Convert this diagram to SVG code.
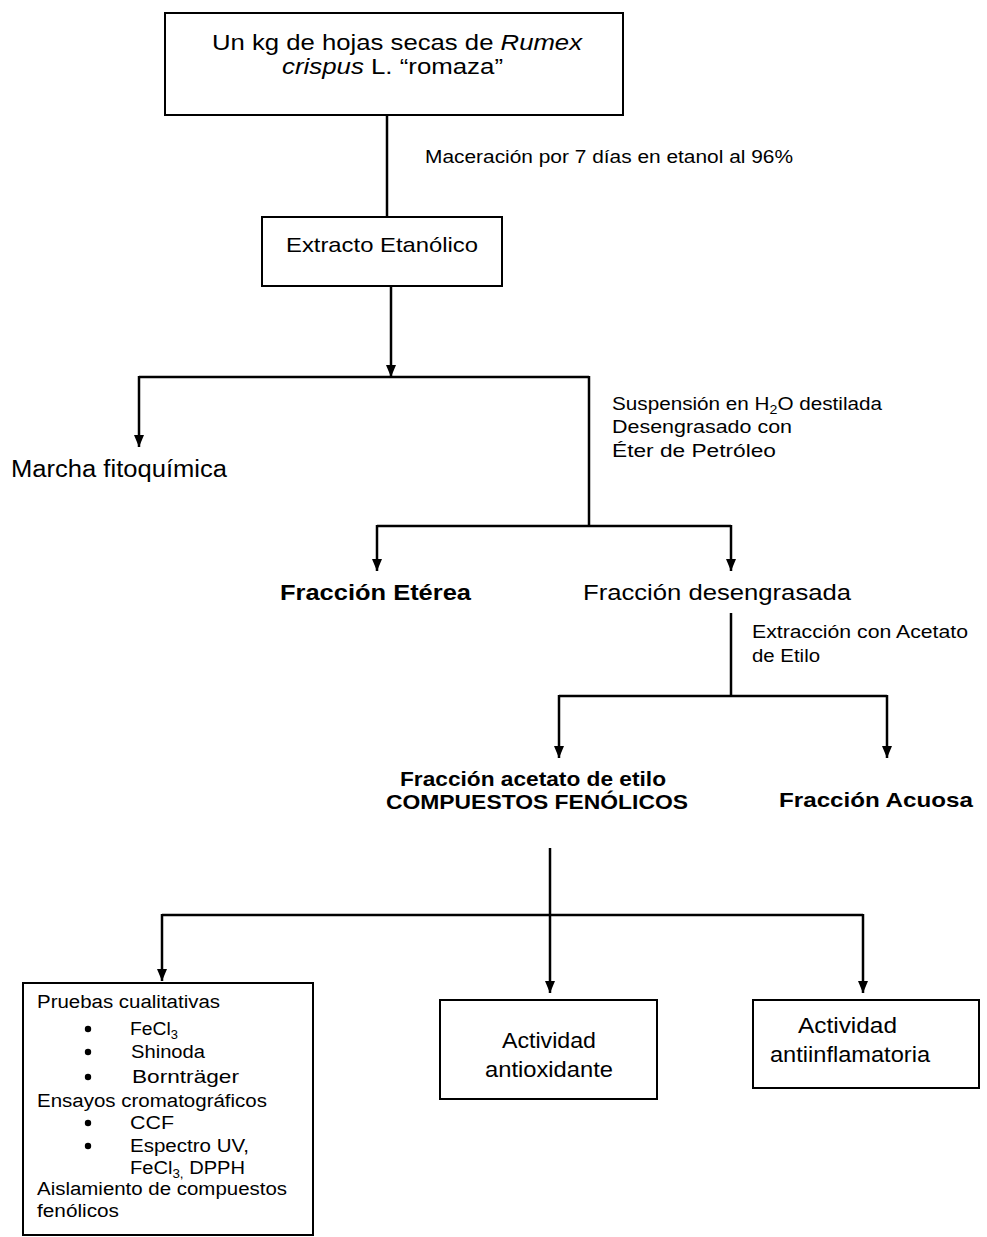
<svg xmlns="http://www.w3.org/2000/svg" width="987" height="1237" viewBox="0 0 987 1237">
<style>
  text { font-family: "Liberation Sans", Arial, sans-serif; fill: #000; }
  .box { fill: #fff; stroke: #000; stroke-width: 2; }
  .ln { fill: none; stroke: #000; stroke-width: 2.5; }
  .b { font-weight: bold; }
  .i { font-style: italic; }
  .lbl { font-size: 17.5px; }
</style>
<defs>
  <marker id="arr" viewBox="0 0 12 10" refX="12" refY="5" markerWidth="12" markerHeight="10" markerUnits="userSpaceOnUse" orient="auto">
    <path d="M0,0 L12,5 L0,10 z" fill="#000"/>
  </marker>
</defs>
<rect width="987" height="1237" fill="#fff"/>

<g id="connectors">
  <line class="ln" x1="387" y1="115" x2="387" y2="217"/>
  <line class="ln" x1="391" y1="286" x2="391" y2="377" marker-end="url(#arr)"/>
  <line class="ln" x1="139" y1="377" x2="589" y2="377"/>
  <line class="ln" x1="139" y1="376" x2="139" y2="447" marker-end="url(#arr)"/>
  <line class="ln" x1="589" y1="376" x2="589" y2="526"/>
  <line class="ln" x1="377" y1="526" x2="731" y2="526"/>
  <line class="ln" x1="377" y1="525" x2="377" y2="571" marker-end="url(#arr)"/>
  <line class="ln" x1="731" y1="525" x2="731" y2="571" marker-end="url(#arr)"/>
  <line class="ln" x1="731" y1="613" x2="731" y2="696"/>
  <line class="ln" x1="559" y1="696" x2="887" y2="696"/>
  <line class="ln" x1="559" y1="695" x2="559" y2="758" marker-end="url(#arr)"/>
  <line class="ln" x1="887" y1="695" x2="887" y2="758" marker-end="url(#arr)"/>
  <line class="ln" x1="550" y1="848" x2="550" y2="993" marker-end="url(#arr)"/>
  <line class="ln" x1="162" y1="915" x2="863" y2="915"/>
  <line class="ln" x1="162" y1="914" x2="162" y2="981" marker-end="url(#arr)"/>
  <line class="ln" x1="863" y1="914" x2="863" y2="993" marker-end="url(#arr)"/>
</g>

<g id="labels">
  <text class="lbl" x="425" y="163" textLength="368" lengthAdjust="spacingAndGlyphs">Maceración  por 7 días  en etanol al 96%</text>
  <text class="lbl" x="612" y="410" textLength="270" lengthAdjust="spacingAndGlyphs">Suspensión en H<tspan font-size="12" dy="4">2</tspan><tspan dy="-4">O destilada</tspan></text>
  <text class="lbl" x="612" y="433" textLength="180" lengthAdjust="spacingAndGlyphs">Desengrasado con</text>
  <text class="lbl" x="612" y="457" textLength="164" lengthAdjust="spacingAndGlyphs">Éter de Petróleo</text>
  <text class="lbl" x="752" y="638" textLength="216" lengthAdjust="spacingAndGlyphs">Extracción con Acetato</text>
  <text class="lbl" x="752" y="662" textLength="68" lengthAdjust="spacingAndGlyphs">de Etilo</text>
</g>

<g id="n-inicio">
  <rect class="box" x="165" y="13" width="458" height="102" stroke-width="2.5"/>
  <text x="212" y="50" font-size="22" textLength="370" lengthAdjust="spacingAndGlyphs">Un kg de hojas secas de <tspan class="i">Rumex</tspan></text>
  <text x="282" y="74" font-size="22" textLength="221" lengthAdjust="spacingAndGlyphs"><tspan class="i">crispus</tspan> L.  “romaza”</text>
</g>

<g id="n-extracto">
  <rect class="box" x="262" y="217" width="240" height="69"/>
  <text x="286" y="252" font-size="21" textLength="192" lengthAdjust="spacingAndGlyphs">Extracto Etanólico</text>
</g>

<g id="n-marcha">
  <text x="11" y="477" font-size="23" textLength="216" lengthAdjust="spacingAndGlyphs">Marcha fitoquímica</text>
</g>

<g id="n-eterea">
  <text class="b" x="280" y="600" font-size="22" textLength="191" lengthAdjust="spacingAndGlyphs">Fracción Etérea</text>
</g>

<g id="n-desengrasada">
  <text x="583" y="600" font-size="22" textLength="268" lengthAdjust="spacingAndGlyphs">Fracción desengrasada</text>
</g>

<g id="n-acetato">
  <text class="b" x="400" y="786" font-size="20" textLength="266" lengthAdjust="spacingAndGlyphs">Fracción acetato de etilo</text>
  <text class="b" x="386" y="809" font-size="20" textLength="302" lengthAdjust="spacingAndGlyphs">COMPUESTOS FENÓLICOS</text>
</g>

<g id="n-acuosa">
  <text class="b" x="779" y="807" font-size="21" textLength="194" lengthAdjust="spacingAndGlyphs">Fracción Acuosa</text>
</g>

<g id="n-pruebas">
  <rect class="box" x="23" y="983" width="290" height="252"/>
  <text x="37" y="1008" font-size="18" textLength="183" lengthAdjust="spacingAndGlyphs">Pruebas cualitativas</text>
  <circle cx="88" cy="1029" r="3.2"/>
  <text x="130" y="1035" font-size="18" textLength="48" lengthAdjust="spacingAndGlyphs">FeCl<tspan font-size="12" dy="4">3</tspan></text>
  <circle cx="88" cy="1052" r="3.2"/>
  <text x="131" y="1058" font-size="18" textLength="74" lengthAdjust="spacingAndGlyphs">Shinoda</text>
  <circle cx="88" cy="1077" r="3.2"/>
  <text x="132" y="1083" font-size="19" textLength="107" lengthAdjust="spacingAndGlyphs">Bornträger</text>
  <text x="37" y="1107" font-size="18" textLength="230" lengthAdjust="spacingAndGlyphs">Ensayos cromatográficos</text>
  <circle cx="88" cy="1123" r="3.2"/>
  <text x="130" y="1129" font-size="18" textLength="44" lengthAdjust="spacingAndGlyphs">CCF</text>
  <circle cx="88" cy="1146" r="3.2"/>
  <text x="130" y="1152" font-size="18" textLength="119" lengthAdjust="spacingAndGlyphs">Espectro UV,</text>
  <text x="130" y="1174" font-size="18" textLength="115" lengthAdjust="spacingAndGlyphs">FeCl<tspan font-size="12" dy="4">3,</tspan><tspan dy="-4"> DPPH</tspan></text>
  <text x="37" y="1195" font-size="18" textLength="250" lengthAdjust="spacingAndGlyphs">Aislamiento de compuestos</text>
  <text x="37" y="1217" font-size="18" textLength="82" lengthAdjust="spacingAndGlyphs">fenólicos</text>
</g>

<g id="n-antioxidante">
  <rect class="box" x="440" y="1000" width="217" height="99"/>
  <text x="502" y="1048" font-size="22" textLength="94" lengthAdjust="spacingAndGlyphs">Actividad</text>
  <text x="485" y="1077" font-size="22" textLength="128" lengthAdjust="spacingAndGlyphs">antioxidante</text>
</g>

<g id="n-antiinflamatoria">
  <rect class="box" x="753" y="1000" width="226" height="88"/>
  <text x="798" y="1033" font-size="22" textLength="99" lengthAdjust="spacingAndGlyphs">Actividad</text>
  <text x="770" y="1062" font-size="22" textLength="160" lengthAdjust="spacingAndGlyphs">antiinflamatoria</text>
</g>
</svg>
